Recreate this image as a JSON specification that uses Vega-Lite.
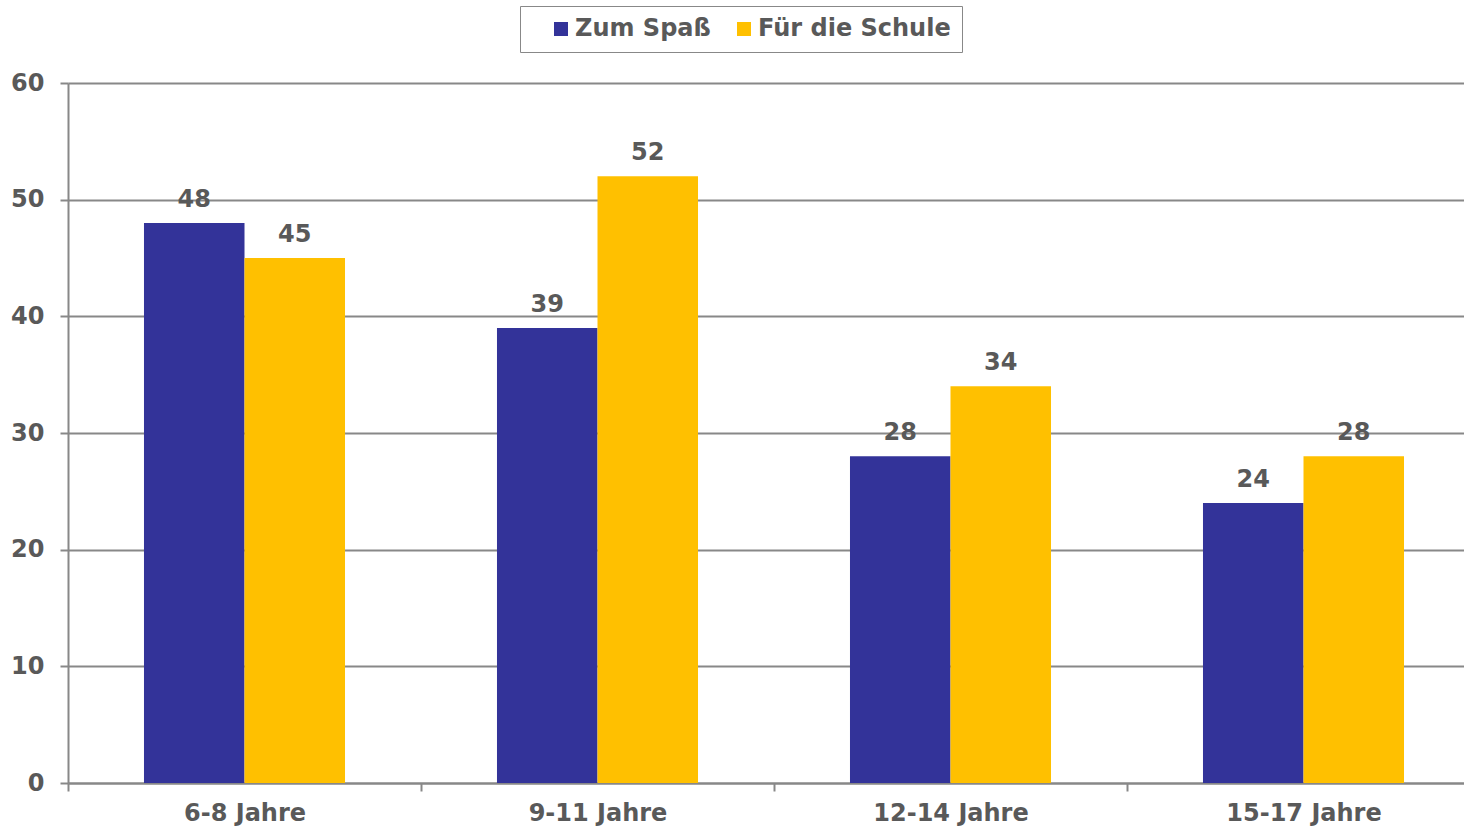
{
  "$schema": "https://vega.github.io/schema/vega-lite/v6.json",
  "width": 1412,
  "height": 700,
  "autosize": {"type": "none"},
  "padding": {"left": 68, "top": 83, "right": 0, "bottom": 45},
  "background": "white",
  "config": {
    "view": {"stroke": null},
    "font": "DejaVu Sans"
  },
  "data": {
    "values": [
      {"age": "6-8 Jahre", "series": "Zum Spaß", "value": 48},
      {"age": "6-8 Jahre", "series": "Für die Schule", "value": 45},
      {"age": "9-11 Jahre", "series": "Zum Spaß", "value": 39},
      {"age": "9-11 Jahre", "series": "Für die Schule", "value": 52},
      {"age": "12-14 Jahre", "series": "Zum Spaß", "value": 28},
      {"age": "12-14 Jahre", "series": "Für die Schule", "value": 34},
      {"age": "15-17 Jahre", "series": "Zum Spaß", "value": 24},
      {"age": "15-17 Jahre", "series": "Für die Schule", "value": 28}
    ]
  },
  "encoding": {
    "x": {
      "field": "age", "type": "nominal", "sort": null, "title": null,
      "scale": {"paddingInner": 0, "paddingOuter": 0},
      "axis": {
        "labelAngle": 0, "labelFontSize": 24, "labelFontWeight": "bold", "labelColor": "#595959",
        "labelPadding": 10, "tickBand": "extent", "tickSize": 8, "tickColor": "#888888",
        "domainColor": "#888888", "domainWidth": 2, "tickWidth": 2, "grid": false, "labelLimit": 0
      }
    },
    "xOffset": {
      "field": "series", "type": "nominal", "sort": ["Zum Spaß", "Für die Schule"],
      "scale": {"paddingInner": 0, "paddingOuter": 0.756}
    },
    "y": {
      "field": "value", "type": "quantitative", "title": null,
      "scale": {"domain": [0, 60], "nice": false},
      "axis": {
        "values": [0, 10, 20, 30, 40, 50, 60], "labelFontSize": 24, "labelFontWeight": "bold",
        "labelColor": "#595959", "labelPadding": 16, "tickSize": 8, "tickColor": "#888888",
        "tickWidth": 2, "domainColor": "#888888", "domainWidth": 2,
        "grid": true, "gridColor": "#888888", "gridWidth": 2
      }
    }
  },
  "layer": [
    {
      "mark": {"type": "bar"},
      "encoding": {
        "color": {
          "field": "series", "type": "nominal",
          "scale": {"domain": ["Zum Spaß", "Für die Schule"], "range": ["#333399", "#FFC000"]},
          "legend": {
            "title": null, "orient": "none", "direction": "horizontal",
            "legendX": 452, "legendY": -77,
            "symbolType": "square", "symbolSize": 196, "symbolStrokeWidth": 0,
            "symbolOffset": 18,
            "labelFontSize": 24, "labelFontWeight": "bold", "labelColor": "#595959",
            "labelOffset": 2, "columnPadding": 3, "labelLimit": 0,
            "strokeColor": "#888888", "padding": 11, "fillColor": "white"
          }
        }
      }
    },
    {
      "mark": {"type": "text", "baseline": "bottom", "dy": -11, "fontSize": 24, "fontWeight": "bold", "color": "#595959"},
      "encoding": {"text": {"field": "value", "type": "quantitative"}}
    }
  ]
}
